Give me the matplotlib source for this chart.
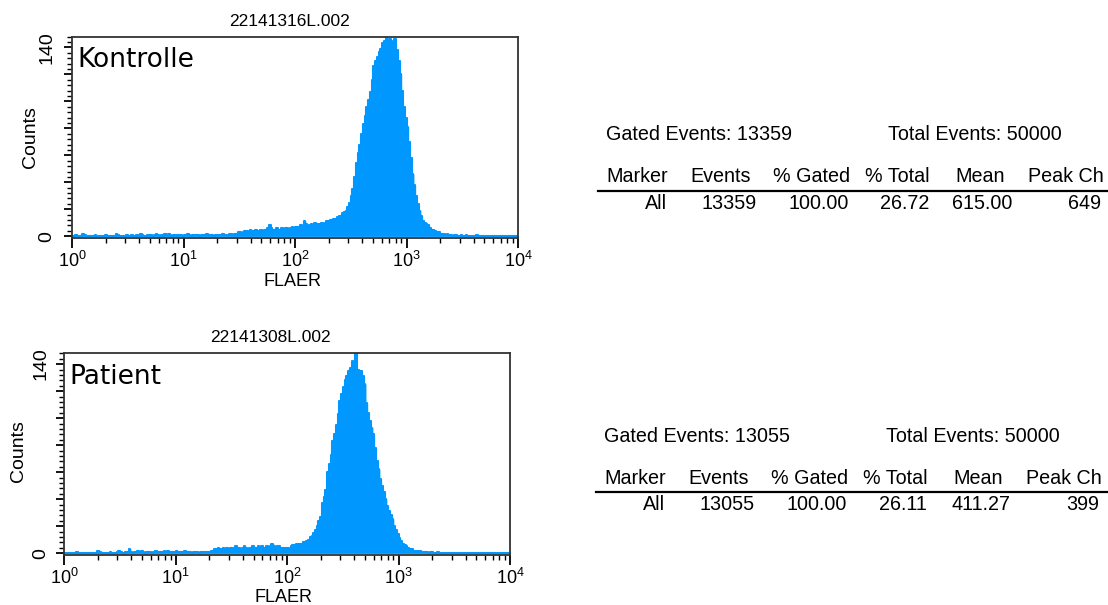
import numpy as np
import matplotlib
matplotlib.use("Agg")
import matplotlib.pyplot as plt
from matplotlib.lines import Line2D
from matplotlib.ticker import MultipleLocator, FixedLocator, FixedFormatter, LogLocator, NullFormatter

plt.rcParams['font.family'] = ['Liberation Sans', 'DejaVu Sans']

# histogram counts, 256 log channels over 10^0..10^4
kontrolle = [
    0, 0, 1, 0, 0, 0, 2, 1, 0, 0, 0, 0, 0, 1, 0, 0,
    0, 0, 0, 1, 0, 0, 0, 0, 0, 2, 1, 0, 0, 0, 0, 1,
    0, 0, 1, 0, 0, 1, 0, 2, 1, 0, 0, 1, 0, 1, 0, 1,
    2, 1, 0, 1, 0, 2, 1, 2, 1, 0, 1, 1, 0, 1, 1, 0,
    1, 1, 2, 1, 0, 1, 1, 1, 1, 0, 1, 1, 1, 2, 1, 1,
    1, 0, 1, 1, 1, 1, 2, 1, 1, 1, 2, 2, 1, 2, 2, 3,
    3, 2, 3, 4, 4, 3, 5, 4, 4, 5, 4, 4, 5, 4, 5, 5,
    6, 8, 6, 5, 5, 6, 5, 5, 6, 5, 6, 6, 5, 6, 7, 6,
    7, 6, 7, 8, 7, 11, 9, 7, 8, 9, 8, 10, 9, 8, 9, 10,
    9, 10, 11, 11, 12, 12, 13, 13, 14, 15, 15, 17, 18, 19, 22, 25,
    30, 35, 44, 54, 62, 68, 76, 83, 89, 96, 101, 107, 116, 126, 130, 133,
    137, 139, 143, 145, 147, 144, 146, 141, 145, 146, 138, 130, 120, 108, 96, 88,
    81, 70, 58, 46, 38, 30, 24, 19, 15, 11, 10, 9, 8, 6, 5, 5,
    4, 3, 3, 2, 2, 2, 1, 2, 1, 1, 0, 1, 1, 0, 0, 1,
    0, 0, 1, 0, 0, 0, 0, 0, 1, 0, 0, 0, 0, 0, 0, 0,
    0, 0, 0, 0, 0, 0, 0, 0, 0, 0, 0, 0, 0, 0, 0, 0,
]
patient = [
    0, 0, 0, 0, 0, 0, 0, 1, 0, 0, 0, 0, 0, 0, 0, 0,
    0, 0, 0, 2, 1, 0, 0, 0, 0, 0, 1, 0, 0, 0, 1, 2,
    1, 0, 0, 1, 1, 3, 1, 0, 1, 1, 2, 1, 2, 1, 0, 1,
    1, 1, 0, 1, 2, 1, 1, 1, 1, 2, 1, 2, 1, 1, 1, 1,
    2, 1, 1, 1, 1, 2, 1, 1, 1, 0, 1, 1, 1, 0, 1, 1,
    1, 1, 1, 1, 2, 2, 3, 3, 4, 3, 3, 4, 3, 4, 3, 4,
    4, 3, 5, 4, 4, 3, 4, 5, 4, 3, 4, 4, 5, 4, 4, 5,
    4, 5, 4, 4, 5, 4, 5, 7, 5, 4, 5, 5, 4, 4, 3, 4,
    4, 3, 5, 6, 6, 7, 6, 7, 7, 8, 8, 9, 10, 12, 13, 15,
    17, 20, 24, 27, 37, 42, 47, 60, 66, 73, 83, 88, 95, 103, 113, 118,
    123, 128, 131, 135, 137, 142, 140, 149, 136, 133, 135, 131, 125, 111, 104, 98,
    93, 88, 78, 68, 62, 55, 50, 45, 40, 35, 31, 28, 25, 20, 17, 14,
    11, 9, 7, 6, 5, 4, 3, 3, 2, 2, 2, 1, 2, 1, 1, 1,
    1, 0, 1, 1, 0, 0, 1, 0, 0, 0, 0, 0, 0, 0, 0, 0,
    0, 0, 0, 0, 0, 0, 0, 0, 0, 0, 0, 0, 0, 0, 0, 0,
    0, 0, 0, 0, 0, 0, 0, 0, 0, 0, 0, 0, 0, 0, 0, 0,
]

files = ['22141316L.002', '22141308L.002']
samples = ['Kontrolle', 'Patient']
xlabel = 'FLAER'
table_cols = ['Marker', 'Events', '% Gated', '% Total', 'Mean', 'Peak Ch']
rows = [['All', '13359', '100.00', '26.72', '615.00', '649'],
        ['All', '13055', '100.00', '26.11', '411.27', '399']]
gated = [13359, 13055]
total = [50000, 50000]

W, H = 1108, 605
FILL = '#0098ff'

fig = plt.figure(figsize=(W / 100, H / 100), dpi=100)

def box(l, t, r, b):
    return [l / W, 1 - b / H, (r - l) / W, (b - t) / H]

def ftext(x, y, s, **kw):
    fig.text(x / W, 1 - y / H, s, **kw)

edges = np.logspace(0, 4, 257)

axes = [fig.add_axes(box(72, 36.7, 518, 238)),
        fig.add_axes(box(64.3, 353.3, 510, 555))]
ypads = [6, 5]

for ax, counts, name, yp in zip(axes, [kontrolle, patient], samples, ypads):
    ys = np.append(counts, counts[-1])
    ax.fill_between(edges, ys, step='post', facecolor=FILL, edgecolor=FILL, lw=0.6)
    ax.step(edges, ys, where='post', color=FILL, lw=1.5)
    ax.set_xscale('log')
    ax.set_xlim(1, 1e4)
    ax.set_ylim(-1.3, 148)
    for s in ax.spines.values():
        s.set_color('#333333')
        s.set_linewidth(1.3)
    ax.xaxis.set_major_locator(LogLocator(base=10, numticks=10))
    ax.xaxis.set_minor_locator(LogLocator(base=10, subs=np.arange(2, 10), numticks=10))
    ax.xaxis.set_minor_formatter(NullFormatter())
    ax.yaxis.set_major_locator(FixedLocator(list(range(0, 141, 20))))
    ax.yaxis.set_major_formatter(FixedFormatter(['0', '', '', '', '', '', '', '140']))
    ax.yaxis.set_minor_locator(MultipleLocator(4))
    ax.tick_params(axis='both', which='major', direction='out', length=6, width=1.3)
    ax.tick_params(axis='both', which='minor', direction='out', length=3.5, width=1.0)
    ax.tick_params(axis='x', which='major', length=7, pad=2, labelsize=13)
    ax.tick_params(axis='y', which='major', pad=yp, labelsize=14)
    for lab in ax.get_yticklabels():
        lab.set_rotation(90)
        lab.set_va('center')
    ax.text(0.012, 0.85, name, transform=ax.transAxes, fontsize=19,
            family='DejaVu Sans', va='baseline', ha='left')

# titles and axis labels
ftext(289, 22, files[0], ha='center', va='center', fontsize=12.5)
ftext(270, 338, files[1], ha='center', va='center', fontsize=12.5)
ftext(292, 282, xlabel, ha='center', va='center', fontsize=13)
ftext(283, 597, xlabel, ha='center', va='center', fontsize=13)
ftext(30, 137, 'Counts', ha='center', va='center', rotation=90, fontsize=14)
ftext(19, 451, 'Counts', ha='center', va='center', rotation=90, fontsize=14)

# statistics tables
head_x = [606, 690, 773, 865, 955, 1028]
data_x = [667, 757, 849, 929, 1012, 1101]
for k, (dx, dy) in enumerate([(0, 0), (-2, 301)]):
    ftext(606 + dx, 135 + dy, 'Gated Events: %d' % gated[k], ha='left', va='center', fontsize=14.2)
    ftext(888 + dx, 135 + dy, 'Total Events: %d' % total[k], ha='left', va='center', fontsize=14.2)
    for hx, col in zip(head_x, table_cols):
        ftext(hx + dx, 177 + dy, col, ha='left', va='center', fontsize=14.2)
    for rx, val in zip(data_x, rows[k]):
        ftext(rx + dx, 203 + dy + k, val, ha='right', va='center', fontsize=14.2)
    fig.add_artist(Line2D([(598 + dx) / W, 1107 / W], [1 - (191 + dy) / H] * 2,
                          color='black', lw=1.6, transform=fig.transFigure))

fig.savefig('out.png', dpi=100)
